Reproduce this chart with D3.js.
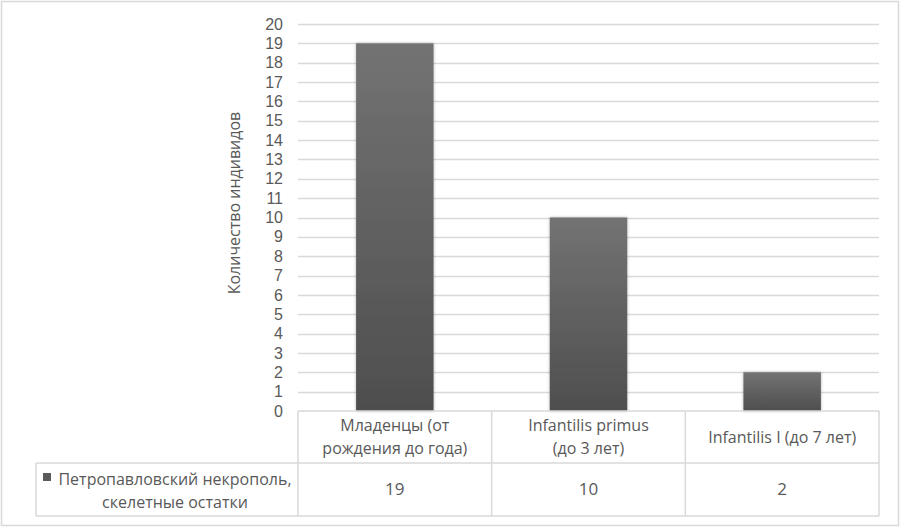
<!DOCTYPE html>
<html><head><meta charset="utf-8">
<script src="https://cdn.jsdelivr.net/npm/d3@7"></script>
<style>
html,body{margin:0;padding:0;background:#fff;}
svg{display:block;}
text{font-family:"Open Sans",sans-serif;fill:#595959;}
</style></head>
<body>
<svg id="chart" width="903" height="528"></svg>
<script>
const categories = [["Младенцы (от","рождения до года)"],["Infantilis primus","(до 3 лет)"],["Infantilis I (до 7 лет)"]];
const values = [19, 10, 2];
const seriesName = ["Петропавловский некрополь,","скелетные остатки"];
const yTicks = [0,1,2,3,4,5,6,7,8,9,10,11,12,13,14,15,16,17,18,19,20];
const yTitle = "Количество индивидов";

(function(){
const svg = d3.select("#chart");
const pLeft = 298, pRight = 879, pTop = 24, pBottom = 411;
const row1 = 463, row2 = 516, legendLeft = 36;
const grid = "#d9d9d9";

// outer border
svg.append("rect").attr("x",1.5).attr("y",1.5).attr("width",897).attr("height",524)
  .attr("fill","#fff").attr("stroke",grid).attr("stroke-width",1.5);

const defs = svg.append("defs");
const lg = defs.append("linearGradient").attr("id","barg").attr("x1",0).attr("y1",0).attr("x2",0).attr("y2",1);
lg.append("stop").attr("offset","0%").attr("stop-color","#737373");
lg.append("stop").attr("offset","100%").attr("stop-color","#4e4e4e");
const f = defs.append("filter").attr("id","sh").attr("x","-20%").attr("y","-20%").attr("width","140%").attr("height","140%");
f.append("feDropShadow").attr("dx",0).attr("dy",0).attr("stdDeviation",1.5).attr("flood-color","#000").attr("flood-opacity",0.3);

const x = d3.scaleBand().domain(d3.range(categories.length)).range([pLeft,pRight]).paddingInner(0.6).paddingOuter(0.3);
const xc = d3.scaleBand().domain(d3.range(categories.length)).range([pLeft,pRight]);
const y = d3.scaleLinear().domain([0,20]).range([pBottom,pTop]);

// gridlines
svg.append("g").selectAll("line").data(yTicks.filter(d=>d>0)).join("line")
  .attr("x1",pLeft).attr("x2",pRight).attr("y1",d=>Math.round(y(d))+0.5).attr("y2",d=>Math.round(y(d))+0.5)
  .attr("stroke",grid).attr("stroke-width",1.5);

// y axis labels
const yAxis = d3.axisLeft(y).tickValues(yTicks).tickSize(0).tickPadding(15);
const ga = svg.append("g").attr("transform",`translate(${pLeft},0)`).call(yAxis);
ga.select(".domain").remove();
ga.selectAll("text").attr("font-size",16).attr("font-family","Liberation Sans, Arial, sans-serif")
  .style("font-family","'Liberation Sans', Arial, sans-serif").attr("fill","#595959");

// bars
svg.append("g").selectAll("rect").data(values).join("rect")
  .attr("x",(d,i)=>x(i)).attr("width",x.bandwidth())
  .attr("y",d=>y(d)).attr("height",d=>y(0)-y(d))
  .attr("fill","url(#barg)").attr("filter","url(#sh)");

// y title
svg.append("text").attr("transform",`translate(240,203) rotate(-90)`)
  .attr("text-anchor","middle").attr("font-size",16).attr("fill","#505050").text(yTitle);

// data table lines
const tg = svg.append("g").attr("stroke",grid).attr("stroke-width",1.5).attr("fill","none");
tg.append("line").attr("x1",pLeft).attr("x2",pRight).attr("y1",pBottom).attr("y2",pBottom);
tg.append("line").attr("x1",legendLeft).attr("x2",pRight).attr("y1",row1).attr("y2",row1);
tg.append("line").attr("x1",legendLeft).attr("x2",pRight).attr("y1",row2).attr("y2",row2);
tg.append("line").attr("x1",legendLeft).attr("x2",legendLeft).attr("y1",row1).attr("y2",row2);
[0,1,2,3].forEach(i=>{
  const xx = i<3 ? xc(i) : pRight;
  tg.append("line").attr("x1",xx).attr("x2",xx).attr("y1",pBottom).attr("y2",row2);
});

// category labels
categories.forEach((lines,i)=>{
  const cx = xc(i)+xc.bandwidth()/2;
  const cy = (pBottom+row1)/2;
  const lh = 23;
  lines.forEach((t,j)=>{
    svg.append("text").attr("x",cx).attr("y",cy + (j-(lines.length-1)/2)*lh)
      .attr("dy","0.35em").attr("text-anchor","middle").attr("font-size",16).text(t);
  });
});

// values
values.forEach((v,i)=>{
  svg.append("text").attr("x",xc(i)+xc.bandwidth()/2).attr("y",(row1+row2)/2)
    .attr("dy","0.35em").attr("text-anchor","middle").attr("font-size",17).text(v);
});

// legend cell
const lcx = 175;
seriesName.forEach((t,j)=>{
  svg.append("text").attr("x",lcx).attr("y",490.5 + (j-0.5)*23)
    .attr("dy","0.35em").attr("text-anchor","middle").attr("font-size",16).text(t);
});
svg.append("rect").attr("x",43).attr("y",473).attr("width",8).attr("height",8).attr("fill","#5a5a5a");
})();
</script>
</body></html>
